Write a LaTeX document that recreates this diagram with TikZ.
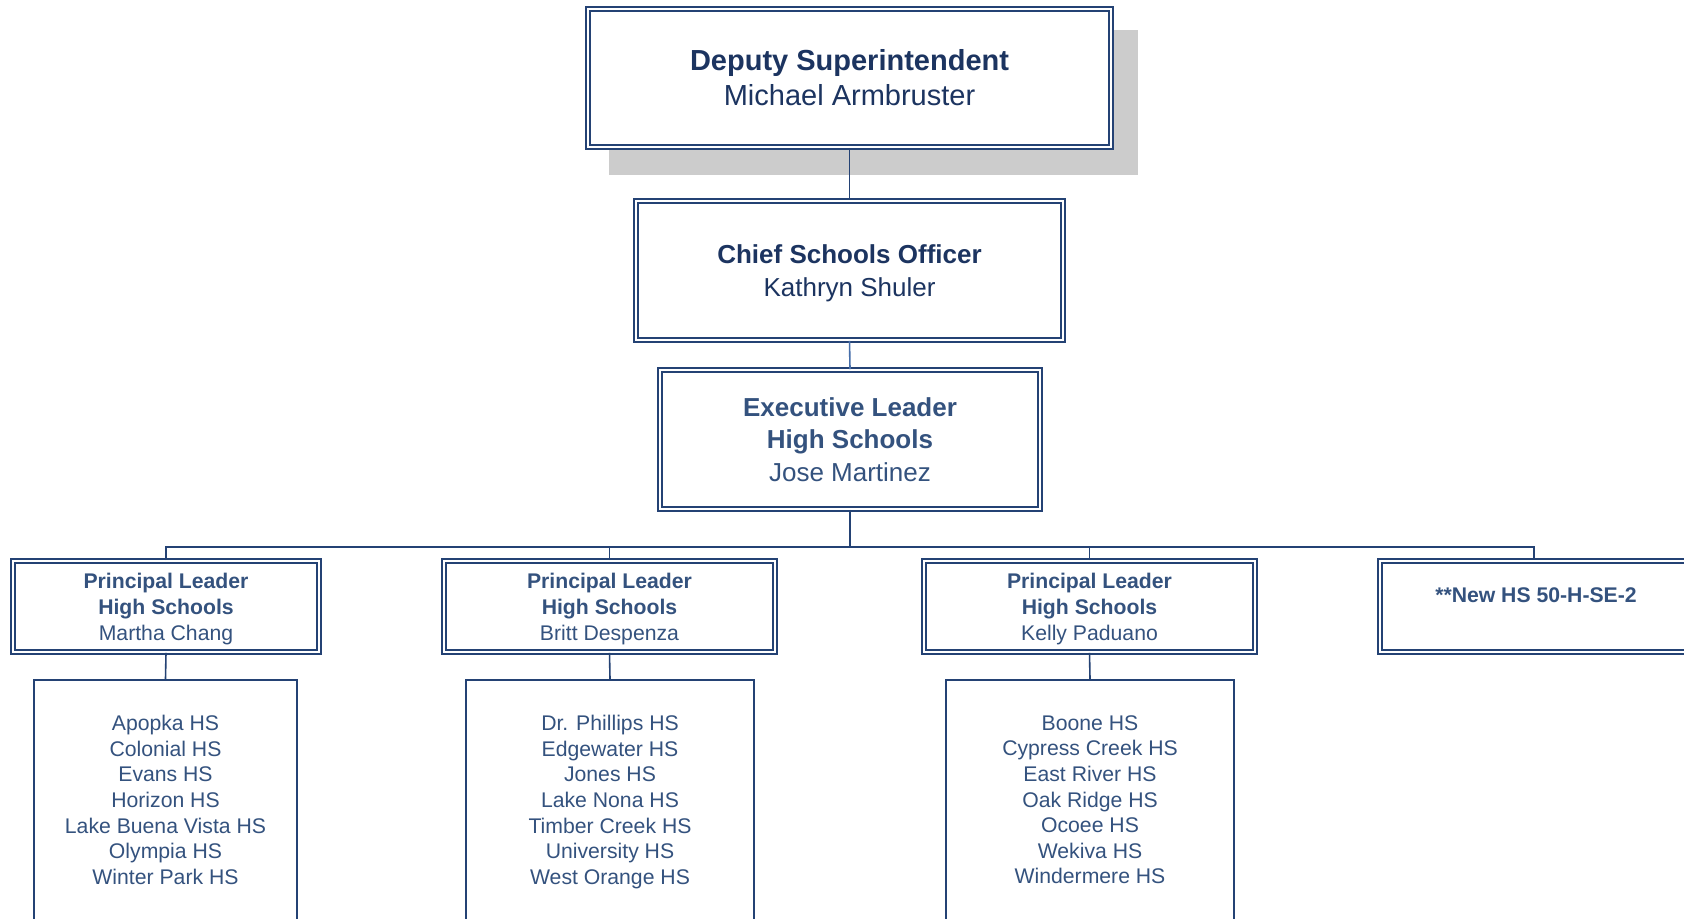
\documentclass[tikz,border=0pt]{standalone}
\usepackage{fontspec}
\setmainfont{Liberation Sans}
\definecolor{bordc}{RGB}{36,66,116}
\definecolor{connL}{RGB}{70,110,170}
\definecolor{txtA}{RGB}{28,52,96}
\definecolor{txtB}{RGB}{52,82,126}
\definecolor{shadc}{RGB}{204,204,204}
\begin{document}
\begin{tikzpicture}[x=0.5pt,y=-0.5pt,
  dbox/.style={draw=bordc, line width=0.9pt, double=white, double distance=1.3pt,
    fill=white, inner sep=0pt, align=center},
  lbox/.style={draw=bordc, line width=1pt, fill=white, inner sep=0pt},
  conn/.style={draw=bordc, line width=0.8pt},
  fTop/.style={font=\fontsize{14.5}{17.5}\selectfont, text=txtA},
  fMid/.style={font=\fontsize{13}{16.2}\selectfont},
  fSmall/.style={font=\fontsize{10.6}{13}\selectfont, text=txtB},
  fList/.style={font=\fontsize{10.6}{12.8}\selectfont, text=txtB, align=center, inner sep=0pt},
]
\useasboundingbox (0,0) rectangle (1684,918);
\fill[white] (0,0) rectangle (1684,918);

% shadow of top box
\fill[shadc] (609,30) rectangle (1138,175);

% top three boxes
\node[dbox, fTop, minimum width=261.5pt, minimum height=69pt] (ds) at (849.5,78)
  {\textbf{Deputy Superintendent}\\Michael Armbruster};
\node[dbox, fMid, text=txtA, text depth=0pt, minimum width=213.5pt, minimum height=69.5pt] (cso) at (849.5,270.5)
  {\textbf{Chief Schools Officer}\\Kathryn Shuler};
\node[dbox, fMid, text=txtB, minimum width=190pt, minimum height=69.5pt] (el) at (850,439.5)
  {\textbf{Executive Leader}\\\textbf{High Schools}\\Jose Martinez};

% principal leaders
\node[dbox, fSmall, text depth=0pt, minimum width=153pt, minimum height=45.5pt] (pa) at (166,606.5)
  {\textbf{Principal Leader}\\\textbf{High Schools}\\Martha Chang};
\node[dbox, fSmall, text depth=0pt, minimum width=165.5pt, minimum height=45.5pt] (pb) at (609.5,606.5)
  {\textbf{Principal Leader}\\\textbf{High Schools}\\Britt Despenza};
\node[dbox, fSmall, text depth=0pt, minimum width=165.5pt, minimum height=45.5pt] (pc) at (1089.5,606.5)
  {\textbf{Principal Leader}\\\textbf{High Schools}\\Kelly Paduano};
\node[dbox, fSmall, minimum width=154pt, minimum height=45.5pt] (pd) at (1534,606.5) {};
\node[fSmall, inner sep=0pt] (pdt) at (1536,595) {\textbf{**New HS 50-H-SE-2}};

% school lists
\node[lbox, minimum width=131.5pt, minimum height=130pt, anchor=north] (la) at (165.5,679) {};
\node[lbox, minimum width=144pt, minimum height=130pt, anchor=north] (lb) at (610,679) {};
\node[lbox, minimum width=144pt, minimum height=130pt, anchor=north] (lc) at (1090,679) {};
\node[fList, anchor=north] (lat) at (165.5,715)
  {Apopka HS\\Colonial HS\\Evans HS\\Horizon HS\\Lake Buena Vista HS\\Olympia HS\\Winter Park HS};
\node[fList, anchor=north] (lbt) at (610,715)
  {Dr. Phillips HS\\Edgewater HS\\Jones HS\\Lake Nona HS\\Timber Creek HS\\University HS\\West Orange HS};
\node[fList, anchor=north] (lct) at (1090,715)
  {Boone HS\\Cypress Creek HS\\East River HS\\Oak Ridge HS\\Ocoee HS\\Wekiva HS\\Windermere HS};

% connectors
\coordinate (bus) at (850,547);
\draw[conn] (ds.south) -- (cso.north);
\draw[conn, draw=connL] (cso.south) -- (el.north);
\draw[conn] (el.south) -- (bus);
\draw[conn] (pa.north) |- (bus) -| (pd.north);
\draw[conn] (pb.north) -- (pb.north |- bus);
\draw[conn] (pc.north) -- (pc.north |- bus);
\draw[conn] (pa.south) -- (la.north);
\draw[conn] (pb.south) -- (lb.north);
\draw[conn] (pc.south) -- (lc.north);
\end{tikzpicture}
\end{document}
